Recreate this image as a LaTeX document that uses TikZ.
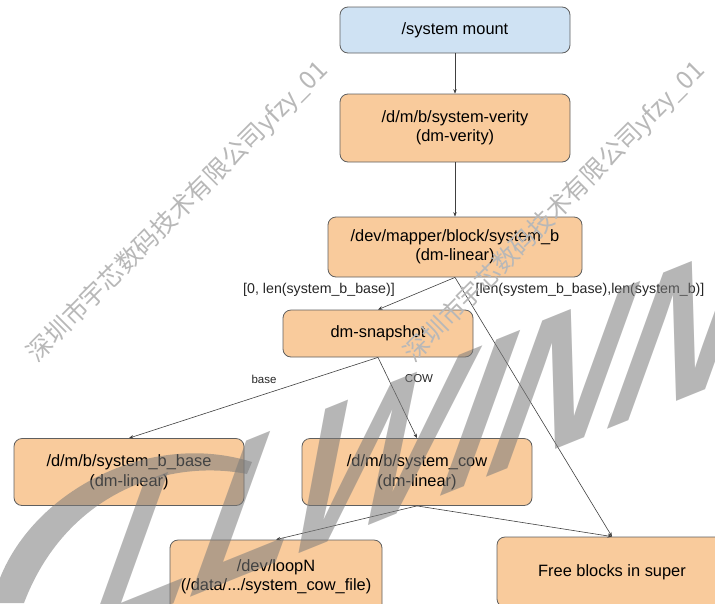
\documentclass[tikz,border=0pt]{standalone}
\usepackage{fontspec}
\setmainfont{Liberation Sans}
\newfontfamily\cjkmark{Noto Sans CJK SC}
\usetikzlibrary{arrows.meta}
\definecolor{boxorange}{HTML}{F9CB9C}
\definecolor{boxblue}{HTML}{CFE2F3}
\definecolor{boxline}{HTML}{5F5F5F}
\definecolor{logogray}{HTML}{7A7A7A}
\begin{document}
\begin{tikzpicture}[x=1pt,y=-1pt,
	blk/.style={draw=boxline, line width=0.8pt, rounded corners=8pt, fill=boxorange,
		align=center, inner sep=0pt, minimum width=230pt, minimum height=67pt,
		font=\fontsize{16.4}{19.5}\selectfont},
	link/.style={draw=black!75, line width=0.6pt, -{Stealth[length=4.5pt,width=3.5pt]}},
	lbl/.style={font=\fontsize{14.2}{16}\selectfont, text=black!85},
	sublbl/.style={font=\fontsize{11.5}{13}\selectfont, text=black!85},
	wmark/.style={font=\cjkmark\fontsize{25}{25}\selectfont, text=black!28, rotate=45},
	logo/.style={font=\bfseries\itshape\fontsize{180}{180}\selectfont, text=logogray,
		inner sep=0pt, anchor=base west, rotate=22, xslant=0.7}]
	\useasboundingbox (0,0) rectangle (715,603);
%	% Blocks
	\node[blk, fill=boxblue, minimum height=46pt] (mount) at (455,30) {/system mount};
	\node[blk, minimum height=68pt] (verity) at (455,128) {/d/m/b/system-verity\\(dm-verity)};
	\node[blk, minimum width=254pt, minimum height=60pt] (linear) at (455,247) {/dev/mapper/block/system\_b\\(dm-linear)};
	\node[blk, minimum width=190pt, minimum height=47pt] (snap) at (378,333.5) {dm-snapshot};
	\node[blk] (base) at (129,472) {/d/m/b/system\_b\_base\\(dm-linear)};
	\node[blk] (cow) at (417,472) {/d/m/b/system\_cow\\(dm-linear)};
	\node[blk, minimum width=212pt, minimum height=73pt] (loop) at (276,576.5) {/dev/loopN\\(/data/.../system\_cow\_file)};
	\node[blk, minimum height=70pt] (free) at (612,572) {Free blocks in super};
%	% Mappings
	\draw[link] (mount) -- (verity);
	\draw[link] (verity) -- (linear);
	\draw[link] (linear.south) -- (snap.north);
	\draw[link] (linear.south) -- (free.north);
	\draw[link] (snap.south) -- (base.north);
	\draw[link] (snap.south) -- (cow.north);
	\draw[link] (cow.south) -- (loop.north);
	\draw[link] (cow.south) -- (free.north);
%	% Ranges
	\node[lbl] (lowrange) at (319,290) {[0, len(system\_b\_base)]};
	\node[lbl] (highrange) at (590,290) {[len(system\_b\_base),len(system\_b)]};
	\node[sublbl] (baselbl) at (264,379) {base};
	\node[sublbl] (cowlbl) at (419,379) {COW};
%	% Watermark
	\node[wmark] (wmleft) at (178,212) {深圳市宇芯数码技术有限公司yfzy\_01};
	\node[wmark] (wmright) at (555,212) {深圳市宇芯数码技术有限公司yfzy\_01};
	\begin{scope}[opacity=0.55]
		\fill[logogray] (0,578) .. controls (35,490) and (150,430) .. (252,462)
			-- (247,474) .. controls (165,458) and (65,495) .. (24,603) -- (0,603) -- cycle;
		\node[logo] (logoword) at (85,640) {LLWINNER};
	\end{scope}
\end{tikzpicture}
\end{document}
